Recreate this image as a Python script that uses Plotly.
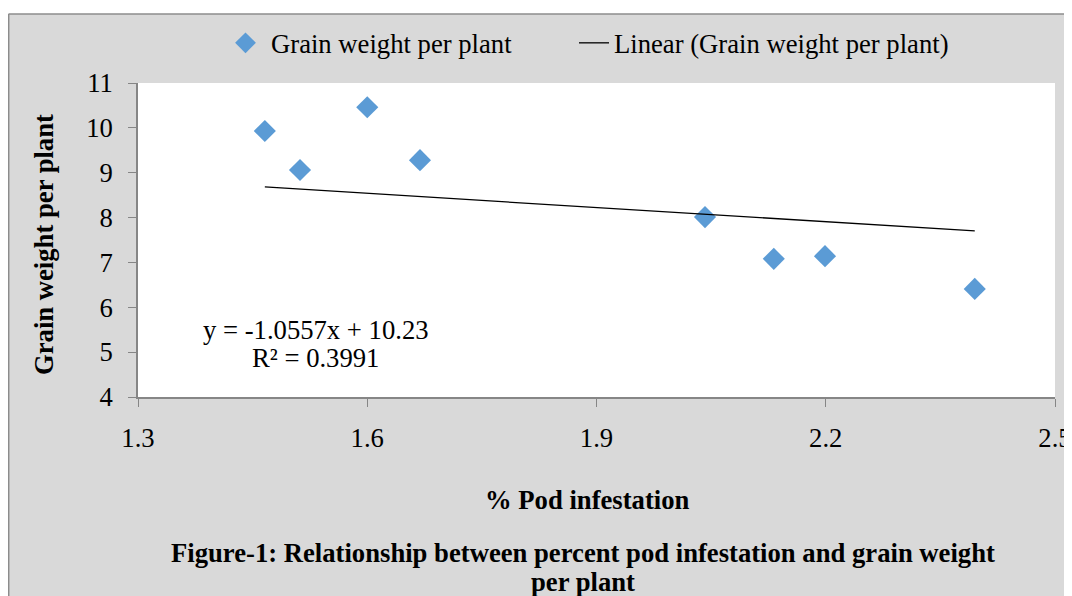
import plotly.graph_objects as go

# Data
pod_infestation = [1.466, 1.512, 1.600, 1.669, 2.042, 2.132, 2.199, 2.395]
grain_weight = [9.93, 9.06, 10.46, 9.28, 8.01, 7.08, 7.14, 6.41]

# Trendline from the printed equation
slope = -1.0557
intercept = 10.23
r_squared = 0.3991
trend_x = [min(pod_infestation), max(pod_infestation)]
trend_y = [slope * v + intercept for v in trend_x]

x_ticks = [1.3, 1.6, 1.9, 2.2, 2.5]
y_ticks = [4, 5, 6, 7, 8, 9, 10, 11]

FONT = "Liberation Serif, Times New Roman, serif"
FS = 26.67
OFF = 8  # page body margin
W, H = 1072, 596
PL, PT, PR, PB = 138, 83, 1055, 397  # desired plot area on screen
PW, PH = PR - PL, PB - PT
L, T = PL - OFF, PT - OFF
R = W - (PR - OFF)
B = H - (PB - OFF)


def px_x(px):
    return (px - PL) / PW


def px_y(py):
    return (PB - py) / PH


fig = go.Figure()
fig.add_trace(go.Scatter(
    x=pod_infestation, y=grain_weight, mode="markers",
    name="Grain weight per plant",
    marker=dict(symbol="diamond", size=17, color="#5b9bd5"),
    legend="legend",
))
fig.add_trace(go.Scatter(
    x=trend_x, y=trend_y, mode="lines",
    name="Linear (Grain weight per plant)",
    line=dict(color="black", width=1.3),
    legend="legend2",
))

axis_common = dict(
    showgrid=False, zeroline=False, showline=True, linecolor="#868686",
    linewidth=1.5, ticks="outside", ticklen=8, tickcolor="#868686",
    tickfont=dict(family=FONT, size=FS, color="black"),
)

legend_common = dict(
    orientation="h", yanchor="middle", y=px_y(43), xanchor="left",
    font=dict(family=FONT, size=FS, color="black"),
    bgcolor="rgba(0,0,0,0)",
)

fig.update_layout(
    width=W, height=H,
    margin=dict(l=L, r=R, t=T, b=B, autoexpand=False),
    paper_bgcolor="#d9d9d9", plot_bgcolor="white",
    font=dict(family=FONT, color="black"),
    xaxis=dict(range=[1.3, 2.5], tickvals=x_ticks,
               ticktext=[f"{v:.1f}" for v in x_ticks],
               ticklabelstandoff=8, **axis_common),
    yaxis=dict(range=[4, 11], tickvals=y_ticks,
               ticklabelstandoff=10, **axis_common),
    legend=dict(x=px_x(220), itemwidth=41, **legend_common),
    legend2=dict(x=px_x(574), itemwidth=30, **legend_common),
    showlegend=True,
)

# White strip above the grey chart box and its border
fig.add_shape(type="rect", xref="paper", yref="paper",
              x0=px_x(0), x1=px_x(W + 20), y0=px_y(14), y1=px_y(0),
              fillcolor="white", line=dict(width=0), layer="below")
fig.add_shape(type="line", xref="paper", yref="paper",
              x0=px_x(8.5), x1=px_x(W + 20), y0=px_y(14), y1=px_y(14),
              line=dict(color="#8c8c8c", width=1.5))
fig.add_shape(type="line", xref="paper", yref="paper",
              x0=px_x(8.7), x1=px_x(8.7), y0=px_y(14), y1=px_y(H + 20),
              line=dict(color="#8c8c8c", width=1.5))


def text_at(cx, cy, txt, angle=0):
    fig.add_annotation(
        x=px_x(cx), y=px_y(cy), xref="paper", yref="paper",
        xanchor="center", yanchor="middle", textangle=angle,
        text=txt, showarrow=False,
        font=dict(family=FONT, size=FS, color="black"),
    )


# Equation annotation
text_at(316, 330, f"y = {slope}x + {intercept}")
text_at(315, 358, f"R² = {r_squared}")

# Axis titles
text_at(44, 245, "<b>Grain weight per plant</b>", angle=-90)
text_at(587, 500, "<b>% Pod infestation</b>")

# Caption
text_at(583, 553, "<b>Figure-1: Relationship between percent pod infestation and grain weight</b>")
text_at(583, 582, "<b>per plant</b>")

fig.write_html("out.html")
